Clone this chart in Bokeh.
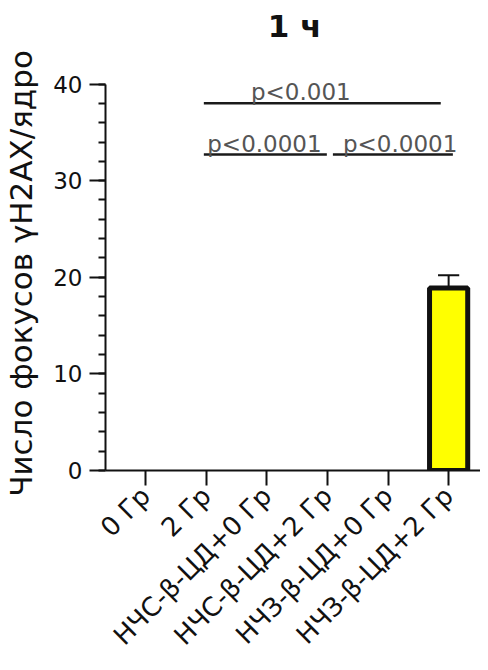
import math
from bokeh.plotting import figure
from bokeh.models import Range1d, FixedTicker, SingleIntervalTicker, ColumnDataSource, Title
from bokeh.core.properties import value
from bokeh.embed import file_html
from bokeh.resources import INLINE

# ---- data ----
categories = ["0 Гр", "2 Гр", "НЧС-β-ЦД+0 Гр", "НЧС-β-ЦД+2 Гр", "НЧЗ-β-ЦД+0 Гр", "НЧЗ-β-ЦД+2 Гр"]
means = [float("nan"), float("nan"), float("nan"), float("nan"), float("nan"), 18.9]
sems = [float("nan"), float("nan"), float("nan"), float("nan"), float("nan"), 1.3]

# significance brackets (category index units) and labels
sig_x0 = [0.96, 0.96, 3.09]
sig_x1 = [4.87, 2.99, 5.07]
sig_y = [38.0, 32.7, 32.7]
sig_text = ["p<0.001", "p<0.0001", "p<0.0001"]
sig_text_x = [2.56, 1.96, 4.20]

title_text = "1 ч"
y_label = "Число фокусов γH2AX/ядро"

FONT = "DejaVu Sans"
W, H = 480, 664
FRAME_BOTTOM = 472   # frame bottom in figure pixels
FRAME_TOP = 76

xs = list(range(len(categories)))
bar_x = [x for x, m in zip(xs, means) if not math.isnan(m)]
bar_top = [m for m in means if not math.isnan(m)]
bar_err = [s for s, m in zip(sems, means) if not math.isnan(m)]
err_top = [t + e for t, e in zip(bar_top, bar_err)]

p = figure(width=W, height=H,
           x_range=Range1d(-0.663, 5.526), y_range=Range1d(0, 40.78),
           output_backend="svg", toolbar_location=None,
           min_border_left=101, min_border_right=0, min_border_top=FRAME_TOP,
           min_border_bottom=H - FRAME_BOTTOM)
p.outline_line_color = None
p.xgrid.visible = False
p.ygrid.visible = False
p.background_fill_color = "white"
p.border_fill_color = "white"

# spacer between frame and title
p.add_layout(Title(text=" ", text_font_size="1px", standoff=28), "above")

# title
p.title.text = title_text
p.title.align = "right"
p.title.offset = 159
p.title.vertical_align = "bottom"
p.title.text_font = FONT
p.title.text_font_size = "31px"
p.title.text_font_style = "bold"
p.title.text_color = "#111111"
p.title.standoff = 4

# bars
src = ColumnDataSource(dict(x=bar_x, top=bar_top, et=err_top))
p.segment(x0="x", y0="top", x1="x", y1="et", source=src, line_color="#111111", line_width=2)
cap = 0.175
p.segment(x0=[x - cap for x in bar_x], y0=err_top, x1=[x + cap for x in bar_x], y1=err_top,
          line_color="#111111", line_width=2)
p.vbar(x="x", top="top", bottom=0, width=0.63, source=src,
       fill_color="#FFFF00", line_color="#111111", line_width=5)

# significance brackets
p.segment(x0=sig_x0, y0=sig_y, x1=sig_x1, y1=sig_y, line_color="#1a1a1a", line_width=2.5)
p.text(x=sig_text_x, y=sig_y, text=sig_text, text_align="center", text_baseline="alphabetic",
       y_offset=-11, text_font_size="23px", text_color="#555555", text_font=value(FONT))

# y axis
ya = p.yaxis[0]
ya.ticker = SingleIntervalTicker(interval=10, num_minor_ticks=5)
ya.bounds = (0, 40)
ya.axis_label = y_label
ya.axis_label_text_font = FONT
ya.axis_label_text_font_size = "31px"
ya.axis_label_text_font_style = "normal"
ya.axis_label_text_color = "#111111"
ya.axis_label_standoff = 11
ya.major_label_text_font = FONT
ya.major_label_text_font_size = "23px"
ya.major_label_text_color = "#111111"
ya.major_label_standoff = 7
ya.axis_line_width = 2
ya.axis_line_color = "#111111"
ya.major_tick_line_width = 2
ya.major_tick_line_color = "#111111"
ya.major_tick_out = 16
ya.major_tick_in = 0
ya.minor_tick_line_width = 2
ya.minor_tick_line_color = "#111111"
ya.minor_tick_out = 7
ya.minor_tick_in = 0

# x axis
xa = p.xaxis[0]
xa.ticker = FixedTicker(ticks=xs, minor_ticks=[])
xa.major_label_overrides = {i: c for i, c in zip(xs, categories)}
xa.major_label_orientation = math.pi / 4
xa.major_label_text_font = FONT
xa.major_label_text_font_size = "26px"
xa.major_label_text_color = "#111111"
xa.major_label_standoff = 6
xa.axis_line_width = 2
xa.axis_line_color = "#111111"
xa.major_tick_line_width = 2
xa.major_tick_line_color = "#111111"
xa.major_tick_out = 15
xa.major_tick_in = 0

open("out.html", "w").write(file_html(p, INLINE))
